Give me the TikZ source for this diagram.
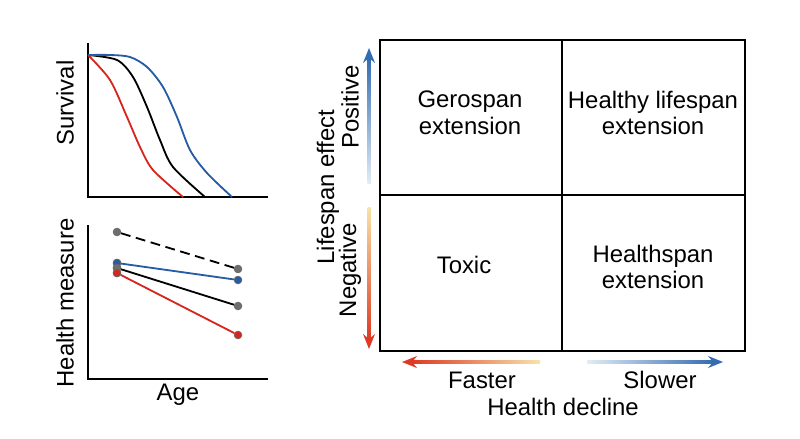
\documentclass[tikz,border=0pt]{standalone}
\usepackage{fontspec}
\setmainfont{Liberation Sans}
\definecolor{lsblue}{RGB}{38,92,165}
\definecolor{lsred}{RGB}{214,38,30}
\definecolor{arblue}{RGB}{52,108,178}
\definecolor{arred}{RGB}{222,58,36}
\definecolor{arpaleb}{RGB}{225,236,246}
\definecolor{arpaley}{RGB}{247,228,168}
\definecolor{dotgray}{RGB}{110,110,110}
\usetikzlibrary{arrows.meta,positioning}

\begin{document}
\begin{tikzpicture}[x=0.025cm,y=-0.025cm,
    lab/.style={font=\fontsize{17}{19}\selectfont,align=center,inner sep=0pt},
    axisline/.style={line width=1.4pt,black},
    curve/.style={line width=1.3pt},
    gridline/.style={line width=1.4pt,black},
    dot/.style={circle,inner sep=0pt,minimum size=5.5pt,draw=black!60,line width=0.5pt}]
  \useasboundingbox (0,0) rectangle (800,439);

  % Survival plot (top left)
  \draw[axisline] (88,43) -- (88,197) -- (268,197);
  \node[lab,rotate=90] (survival) at (65,103) {Survival};
  \draw[curve,lsred] plot[smooth,tension=0.5] coordinates
        {(88,55) (110,80) (127,117) (140,147) (153,170) (183,197)};
  \draw[curve,black] plot[smooth,tension=0.5] coordinates
        {(88,55) (117,60) (133,77) (147,107) (160,140) (173,167) (205,197)};
  \draw[curve,lsblue] plot[smooth,tension=0.5] coordinates
        {(88,55) (110,55) (130,57) (147,67) (163,87) (177,117) (190,150) (207,173) (232,197)};

  % Health measure plot (bottom left)
  \draw[axisline] (88,225) -- (88,379) -- (268,379);
  \node[lab,rotate=90] (health) at (65,303) {Health measure};
  \node[lab] (age) at (178,395) {Age};
  \node[dot,fill=dotgray] (g1) at (117,232) {};
  \node[dot,fill=dotgray] (g2) at (238,269) {};
  \node[dot,fill=dotgray] (k1) at (117,268) {};
  \node[dot,fill=dotgray] (k2) at (238,306) {};
  \node[dot,fill=lsred] (r1) at (117,273) {};
  \node[dot,fill=lsred] (r2) at (238,335) {};
  \node[dot,fill=lsblue] (b1) at (117,263) {};
  \node[dot,fill=lsblue] (b2) at (238,280) {};
  \draw[curve,black,dashed,dash pattern=on 7pt off 4pt] (g1) -- (g2);
  \draw[curve,black] (k1) -- (k2);
  \draw[curve,lsred] (r1) -- (r2);
  \draw[curve,lsblue] (b1) -- (b2);
  \node[dot,fill=lsblue] at (117,263) {};
  \node[dot,fill=dotgray] at (117,268) {};
  \node[dot,fill=lsred] at (117,273) {};

  % Quadrant grid
  \draw[gridline] (380,40) rectangle (745,351);
  \draw[gridline] (562,40) -- (562,351);
  \draw[gridline] (380,195) -- (745,195);
  \node[lab] (gero) at (470,113) {Gerospan\\extension};
  \node[lab] (healthy) at (653,113) {Healthy lifespan\\extension};
  \node[lab] (toxic) at (464,265) {Toxic};
  \node[lab] (hspan) at (653,267) {Healthspan\\extension};

  % Lifespan effect arrows
  \shade[bottom color=arpaleb,top color=arblue] (367.5,183) rectangle (370.5,58);
  \fill[arblue] (369,48) -- (375,63) -- (369,58) -- (363,63) -- cycle;
  \shade[top color=arpaley,bottom color=arred] (367.5,207) rectangle (370.5,339);
  \fill[arred] (369,349) -- (375,334) -- (369,339) -- (363,334) -- cycle;
  \node[lab,rotate=90] (lseff) at (328,187) {Lifespan effect};
  \node[lab,rotate=90] (pos) at (350,107) {Positive};
  \node[lab,rotate=90] (neg) at (350,270) {Negative};

  % Health decline arrows
  \shade[left color=arred,right color=arpaley] (412,360.5) rectangle (540,363.5);
  \fill[arred] (402,362) -- (417,356) -- (412,362) -- (417,368) -- cycle;
  \shade[left color=arpaleb,right color=arblue] (587,360.5) rectangle (713,363.5);
  \fill[arblue] (723,362) -- (708,356) -- (713,362) -- (708,368) -- cycle;
  \node[lab] (faster) at (482,380) {Faster};
  \node[lab] (slower) at (660,380) {Slower};
  \node[lab] (decline) at (563,407) {Health decline};
\end{tikzpicture}
\end{document}
